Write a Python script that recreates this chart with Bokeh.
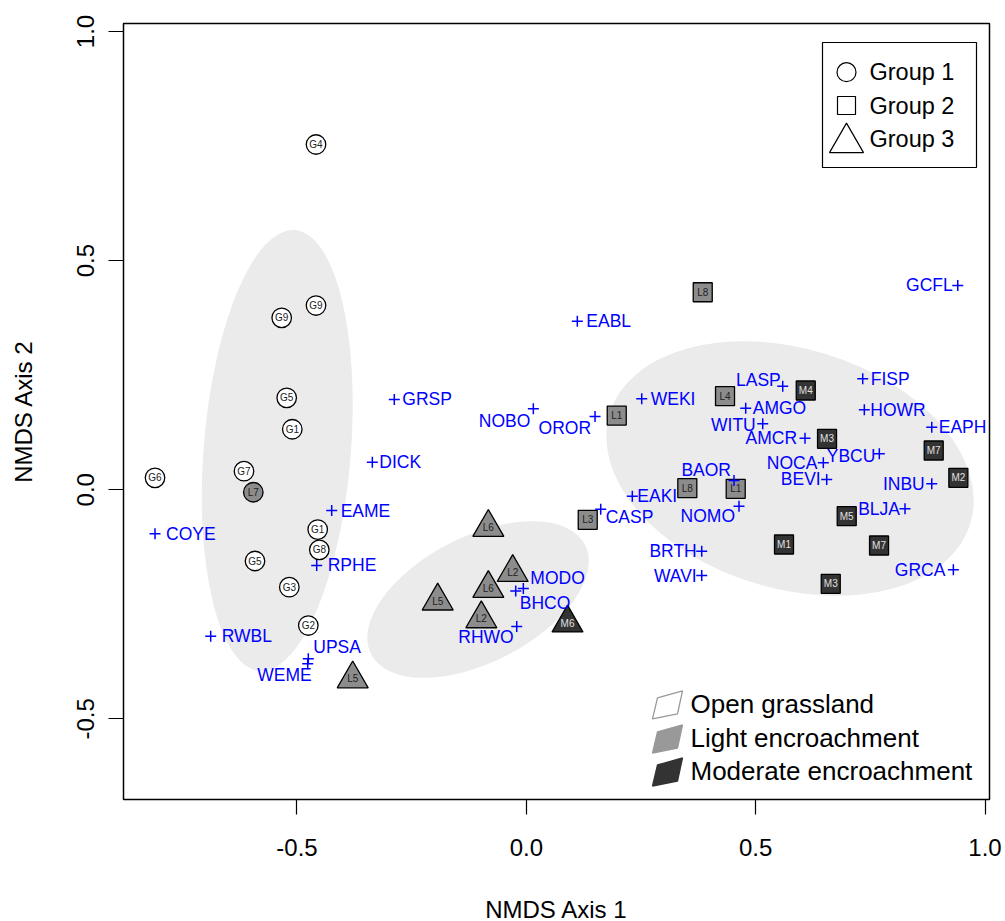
import numpy as np
from bokeh.plotting import figure
from bokeh.models import Range1d, FixedTicker, PrintfTickFormatter
from bokeh.core.properties import value
from bokeh.embed import file_html
from bokeh.resources import INLINE

# ---------------- data ----------------
# sample sites (Group 1 = circles, Group 2 = squares, Group 3 = triangles)
site_labels = ["G4", "G9", "G9", "G5", "G1", "G7", "L7", "G6", "G1", "G8", "G5", "G3", "G2",
               "L8", "L4", "L1", "M4", "M3", "M7", "M2", "L8", "L1", "L3", "M5", "M1", "M7", "M3",
               "L6", "L2", "L6", "L5", "L2", "M6", "L5"]
site_x = [-0.4585, -0.4585, -0.5333, -0.5224, -0.5102, -0.6155, -0.5952, -0.8095, -0.4548, -0.4513,
          -0.5915, -0.5167, -0.4753,
          0.3846, 0.4332, 0.1971, 0.6092, 0.6556, 0.8882, 0.9419, 0.3510, 0.4565, 0.1339, 0.6985,
          0.5618, 0.7690, 0.6637,
          -0.0828, -0.0297, -0.0828, -0.1932, -0.0981, 0.0898, -0.3785]
site_y = [0.7534, 0.4020, 0.3752, 0.2006, 0.1320, 0.0404, -0.0055, 0.0260, -0.0869, -0.1312,
          -0.1556, -0.2128, -0.2964,
          0.4310, 0.2041, 0.1619, 0.2165, 0.1111, 0.0856, 0.0260, 0.0033, 0.0020, -0.0657, -0.0578,
          -0.1196, -0.1218, -0.2054,
          -0.0823, -0.1807, -0.2156, -0.2430, -0.2817, -0.2909, -0.4129]
site_group = [1] * 13 + [2] * 14 + [3] * 7

# bird species scores
species = ["COYE", "RWBL", "EAME", "RPHE", "DICK", "UPSA", "WEME", "GRSP", "EABL", "NOBO",
           "OROR", "CASP", "MODO", "BHCO", "RHWO", "WEKI", "GCFL", "LASP", "FISP", "AMGO",
           "HOWR", "WITU", "AMCR", "EAPH", "NOCA", "YBCU", "BEVI", "INBU", "BAOR", "EAKI",
           "NOMO", "BLJA", "BRTH", "WAVI", "GRCA"]
species_x = [-0.8095, -0.6881, -0.4243, -0.4570, -0.3357, -0.4753, -0.4766, -0.2878, 0.1112, 0.0153,
             0.1498, 0.1622, -0.0065, -0.0231, -0.0209, 0.2516, 0.9406, 0.5590, 0.7334, 0.4783,
             0.7369, 0.5154, 0.6076, 0.8839, 0.6475, 0.7696, 0.6549, 0.8839, 0.4528, 0.2311,
             0.4637, 0.8256, 0.3824, 0.3824, 0.9310]
species_y = [-0.0962, -0.3197, -0.0454, -0.1654, 0.0600, -0.3691, -0.3800, 0.1969, 0.3677, 0.1766,
             0.1599, -0.0426, -0.2156, -0.2211, -0.2986, 0.1984, 0.4457, 0.2259, 0.2420, 0.1779,
             0.1744, 0.1438, 0.1124, 0.1364, 0.0587, 0.0783, 0.0223, 0.0129, 0.0201, -0.0142,
             -0.0360, -0.0417, -0.1342, -0.1873, -0.1748]

# group dispersion ellipses
ell_group = [1, 3, 2]
ell_cx = [-0.5430, -0.1053, 0.5749]
ell_cy = [0.0857, -0.2396, 0.0463]
ell_w = [0.321, 0.524, 0.822]
ell_h = [0.965, 0.2746, 0.524]
ell_angle = [-0.08, 0.473, -0.295]

group_names = ["Group 1", "Group 2", "Group 3"]
cover_names = ["Open grassland", "Light encroachment", "Moderate encroachment"]

# ---------------- layout / style ----------------
FONT = "Liberation Sans"
FRAME_L, FRAME_T, FW, FH = 123, 23, 866, 776
XS, XE = -0.8782, 1.0098
YS, YE = -0.6761, 1.0175


def px_x(px):
    return XS + (px - FRAME_L) * (XE - XS) / FW


def px_y(py):
    return YE - (py - FRAME_T) * (YE - YS) / FH


COVER_FILL = {"G": "white", "L": "#8C8C8C", "M": "#333333"}
COVER_TEXT = {"G": "#222222", "L": "#222222", "M": "#E0E0E0"}
MARKERS = {1: ("circle", 19.5), 2: ("square", 19), 3: ("triangle", 31)}

# label placement for species: (align, dx px, dy px)
LABEL_POS = {
    "COYE": ("left", 11, 0), "RWBL": ("left", 11, 0), "EAME": ("left", 9, 0),
    "RPHE": ("left", 11, 0), "DICK": ("left", 7, 0), "UPSA": ("left", 5, -12),
    "WEME": ("right", 4, 11), "GRSP": ("left", 8, 0), "EABL": ("left", 9, 0),
    "NOBO": ("right", -3, 12), "OROR": ("right", -4, 12), "CASP": ("left", 5, 8),
    "MODO": ("left", 7, -11), "BHCO": ("left", 4, 12), "RHWO": ("right", -3, 10),
    "WEKI": ("left", 9, 0), "GCFL": ("right", -5, 0), "LASP": ("right", -2, -6),
    "FISP": ("left", 8, 0), "AMGO": ("left", 7, 0), "HOWR": ("left", 6, 0),
    "WITU": ("right", -7, 1), "AMCR": ("right", -8, 0), "EAPH": ("left", 7, 0),
    "NOCA": ("right", -6, 0), "YBCU": ("right", -4, 2), "BEVI": ("right", -6, 0),
    "INBU": ("right", -7, 0), "BAOR": ("right", -3, -11), "EAKI": ("left", 5, 0),
    "NOMO": ("right", -4, 10), "BLJA": ("right", -5, 0), "BRTH": ("right", -5, 0),
    "WAVI": ("right", -5, 0), "GRCA": ("right", -8, 0),
}

p = figure(frame_width=FW, frame_height=FH,
           x_range=Range1d(XS, XE), y_range=Range1d(YS, YE),
           min_border_left=FRAME_L, min_border_top=FRAME_T,
           min_border_right=1005 - FRAME_L - FW, min_border_bottom=921 - FRAME_T - FH,
           output_backend="svg", toolbar_location=None)
p.grid.visible = False
p.outline_line_color = "black"
p.outline_line_width = 1.5
p.background_fill_color = "white"
p.border_fill_color = "white"

for ax, lab in ((p.xaxis, "NMDS Axis 1"), (p.yaxis, "NMDS Axis 2")):
    ax.ticker = FixedTicker(ticks=[-0.5, 0.0, 0.5, 1.0])
    ax.formatter = PrintfTickFormatter(format="%.1f")
    ax.axis_line_color = None
    ax.major_tick_out = 15
    ax.major_tick_in = 0
    ax.minor_tick_out = 0
    ax.minor_tick_in = 0
    ax.major_tick_line_color = "black"
    ax.major_tick_line_width = 1.2
    ax.major_label_text_font = FONT
    ax.major_label_text_font_size = "24px"
    ax.major_label_text_color = "black"
    ax.axis_label = lab
    ax.axis_label_text_font = FONT
    ax.axis_label_text_font_size = "24px"
    ax.axis_label_text_font_style = "normal"
    ax.axis_label_text_color = "black"
p.xaxis.major_label_standoff = 24
p.xaxis.axis_label_standoff = 37
p.yaxis.major_label_orientation = "vertical"
p.yaxis.major_label_standoff = 14
p.yaxis.axis_label_standoff = 38

# ellipses
p.ellipse(x=ell_cx, y=ell_cy, width=ell_w, height=ell_h, angle=ell_angle,
          fill_color="#EBEBEB", line_color=None)

# sample sites
for g in (1, 2, 3):
    idx = [i for i, gg in enumerate(site_group) if gg == g]
    mk, sz = MARKERS[g]
    p.scatter(x=[site_x[i] for i in idx], y=[site_y[i] for i in idx], marker=mk, size=sz,
              fill_color=[COVER_FILL[site_labels[i][0]] for i in idx],
              line_color="black", line_width=1.3)
p.text(x=site_x, y=site_y, text=site_labels, text_font=value(FONT), text_font_size="10px",
       text_color=[COVER_TEXT[s[0]] for s in site_labels],
       text_align="center", text_baseline="middle")

# species
p.scatter(x=species_x, y=species_y, marker="cross", size=11, line_color="#0000FF", line_width=1.5)
for align in ("left", "right"):
    idx = [i for i, s in enumerate(species) if LABEL_POS[s][0] == align]
    p.text(x=[species_x[i] for i in idx], y=[species_y[i] for i in idx],
           text=[species[i] for i in idx],
           x_offset=[LABEL_POS[species[i]][1] for i in idx],
           y_offset=[LABEL_POS[species[i]][2] for i in idx],
           text_font=value(FONT), text_font_size="17.5px", text_color="#0000FF",
           text_align=align, text_baseline="middle")

# legend 1: groups
p.quad(left=px_x(822), right=px_x(976), top=px_y(42), bottom=px_y(167),
       fill_color="white", line_color="black", line_width=1.2)
leg_y = [71.7, 105, 138.3]
for g, ly in zip((1, 2, 3), leg_y):
    mk = MARKERS[g][0]
    sz = {1: 19, 2: 18, 3: 34}[g]
    yy = ly + (4 if g == 3 else 0)
    p.scatter(x=[px_x(846)], y=[px_y(yy)], marker=mk, size=sz, fill_color="white",
              line_color="black", line_width=1.2)
p.text(x=[px_x(869)] * 3, y=[px_y(v) for v in leg_y], text=group_names,
       text_font=value(FONT), text_font_size="23.5px", text_color="black",
       text_align="left", text_baseline="middle")

# legend 2: cover classes (skewed swatches)
shape = [(-10, -7), (15, -14), (10, 9), (-15, 14)]
cover_y = [703.3, 737.5, 770.5]
xs, ys = [], []
for cy in cover_y:
    xs.append([px_x(667 + a) for a, b in shape])
    ys.append([px_y(cy + 1 + b) for a, b in shape])
p.patches(xs=xs, ys=ys, fill_color=["white", "#999999", "#333333"],
          line_color=["#999999", "#999999", "#333333"], line_width=1.3)
p.text(x=[px_x(690)] * 3, y=[px_y(v) for v in cover_y], text=cover_names,
       text_font=value(FONT), text_font_size="26px", text_color="black",
       text_align="left", text_baseline="middle")

open("out.html", "w").write(file_html(p, INLINE))
